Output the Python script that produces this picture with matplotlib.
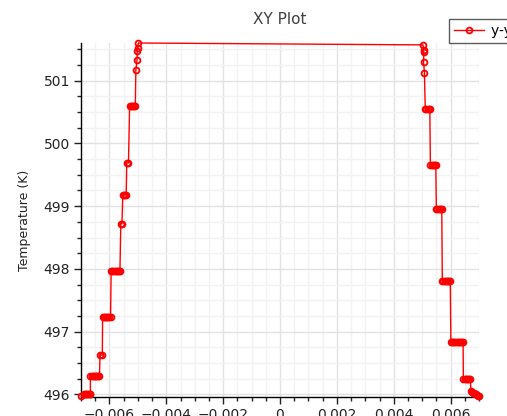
import matplotlib
matplotlib.use("Agg")
import matplotlib.pyplot as plt
from matplotlib.ticker import MultipleLocator, FixedLocator, FixedFormatter

# ---- data (position in m, temperature in K) ----
x_left = [-0.00699,
          -0.00690, -0.00686, -0.00682, -0.00678, -0.00674, -0.00670, -0.00667,
          -0.00667, -0.00663, -0.00659, -0.00655, -0.00651, -0.00647, -0.00643, -0.00639, -0.00635,
          -0.00633, -0.00625,
          -0.00624, -0.00620, -0.00616, -0.00612, -0.00608, -0.00604, -0.00600, -0.00596,
          -0.00594, -0.00590, -0.00586, -0.00582, -0.00578, -0.00574, -0.00570, -0.00566, -0.00563,
          -0.00560, -0.00556,
          -0.00553, -0.00549, -0.00545, -0.00541,
          -0.00539, -0.00533,
          -0.00529, -0.00525, -0.00521, -0.00517, -0.00513, -0.00509,
          -0.00507, -0.00503, -0.00502, -0.00501, -0.00498]
t_left = [495.97,
          496.01, 496.01, 496.01, 496.01, 496.01, 496.01, 496.01,
          496.29, 496.29, 496.29, 496.29, 496.29, 496.29, 496.29, 496.29, 496.29,
          496.63, 496.63,
          497.23, 497.23, 497.23, 497.23, 497.23, 497.23, 497.23, 497.23,
          497.97, 497.97, 497.97, 497.97, 497.97, 497.97, 497.97, 497.97, 497.97,
          498.72, 498.72,
          499.18, 499.18, 499.18, 499.18,
          499.69, 499.69,
          500.59, 500.59, 500.59, 500.59, 500.59, 500.59,
          501.17, 501.33, 501.48, 501.52, 501.60]

x_right = [0.00503, 0.00505, 0.00506, 0.00505, 0.00508,
           0.00511, 0.00515, 0.00519, 0.00523, 0.00527,
           0.00529, 0.00533, 0.00537, 0.00541, 0.00545, 0.00548,
           0.00550, 0.00554, 0.00558, 0.00562, 0.00566, 0.00569,
           0.00571, 0.00575, 0.00579, 0.00583, 0.00587, 0.00591, 0.00595, 0.00599,
           0.00601, 0.00605, 0.00609, 0.00613, 0.00617, 0.00621, 0.00625, 0.00629, 0.00633, 0.00637, 0.00641, 0.00644,
           0.00645, 0.00649, 0.00653, 0.00657, 0.00661, 0.00665, 0.00669,
           0.00672, 0.00676, 0.00680, 0.00684, 0.00688, 0.00692, 0.00696, 0.00699]
t_right = [501.57, 501.49, 501.45, 501.30, 501.13,
           500.55, 500.55, 500.55, 500.55, 500.55,
           499.66, 499.66, 499.66, 499.66, 499.66, 499.66,
           498.95, 498.95, 498.95, 498.95, 498.95, 498.95,
           497.81, 497.81, 497.81, 497.81, 497.81, 497.81, 497.81, 497.81,
           496.83, 496.83, 496.83, 496.83, 496.83, 496.83, 496.83, 496.83, 496.83, 496.83, 496.83, 496.83,
           496.25, 496.25, 496.25, 496.25, 496.25, 496.25, 496.25,
           496.05, 496.04, 496.03, 496.02, 496.00, 495.99, 495.98, 495.97]

x_ticks = [-0.006, -0.004, -0.002, 0.0, 0.002, 0.004, 0.006]
x_tick_labels = ["\u22120.006", "\u22120.004", "\u22120.002", "0", "0.002", "0.004", "0.006"]
y_ticks = [496, 497, 498, 499, 500, 501]
y_tick_labels = ["496", "497", "498", "499", "500", "501"]

series_label = "y-y 1"
title = "XY Plot"
y_label = "Temperature (K)"

# ---- figure ----
fig = plt.figure(figsize=(5.07, 4.16), dpi=100)
ax = fig.add_axes([81 / 507, 19 / 416, 398 / 507, 354 / 416])

xs = x_left + x_right
ts = t_left + t_right
ax.plot(xs, ts, color="#ff0000", lw=1.0, marker="o", markersize=4.2,
        markerfacecolor="none", markeredgecolor="#ff0000", markeredgewidth=1.3,
        label=series_label, zorder=3, clip_on=False)

ax.set_xlim(-0.007, 0.007)
ax.set_ylim(495.96, 501.6)

ax.xaxis.set_major_locator(FixedLocator(x_ticks))
ax.xaxis.set_major_formatter(FixedFormatter(x_tick_labels))
ax.xaxis.set_minor_locator(MultipleLocator(0.0005))
ax.yaxis.set_major_locator(FixedLocator(y_ticks))
ax.yaxis.set_major_formatter(FixedFormatter(y_tick_labels))
ax.yaxis.set_minor_locator(MultipleLocator(0.25))

ax.grid(which="major", color="#e2e2e2", lw=1.0)
ax.grid(which="minor", color="#f2f2f2", lw=1.0)
ax.set_axisbelow(True)

for s in ("top", "right"):
    ax.spines[s].set_visible(False)
for s in ("left", "bottom"):
    ax.spines[s].set_color("#000000")
    ax.spines[s].set_linewidth(1.0)

ax.tick_params(which="major", direction="out", length=5, width=1, colors="#222222",
               labelsize=10, pad=3)
ax.tick_params(which="minor", direction="out", length=3, width=1, colors="#222222")

ax.set_ylabel(y_label, fontsize=9, color="#222222", labelpad=9)
fig.text(280 / 507, 1 - 19 / 416, title, ha="center", va="center", fontsize=11, color="#404040")

leg = ax.legend(loc="upper left", bbox_to_anchor=(449 / 507, 1 - 19 / 416),
                bbox_transform=fig.transFigure, frameon=True, fancybox=False,
                fontsize=10, handlelength=2.2, borderpad=0.35, handletextpad=0.5,
                borderaxespad=0)
leg.get_frame().set_edgecolor("#333333")
leg.get_frame().set_linewidth(1.0)

fig.savefig("out.png", dpi=100)
